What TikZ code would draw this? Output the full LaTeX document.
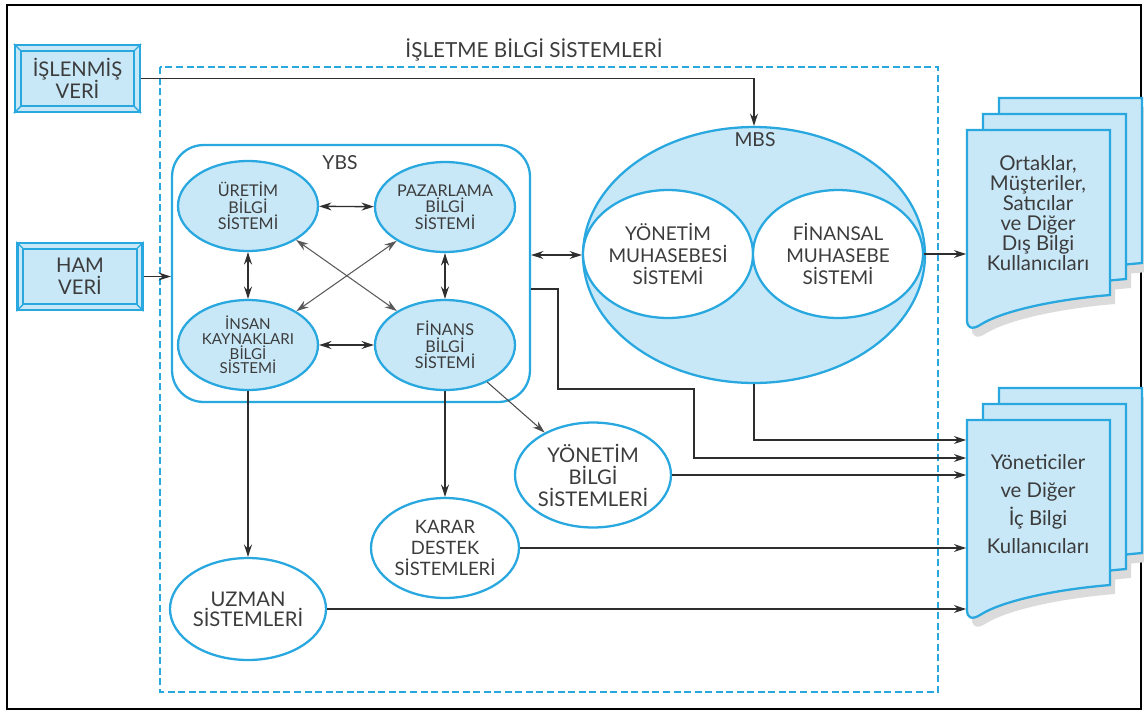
\documentclass[tikz,border=0pt]{standalone}
\usepackage{fontspec}
\setmainfont{Lato}
\usepackage{tikz}
\usetikzlibrary{shapes,arrows,arrows.meta,positioning}
\definecolor{bsblue}{HTML}{29A8E0}
\definecolor{bsfill}{HTML}{C8E8F8}
\definecolor{bstext}{HTML}{3C3C3C}
\definecolor{bsarrow}{HTML}{2E2E2E}

\begin{document}
\begin{tikzpicture}[x=0.02cm, y=-0.02cm, text=bstext]
        \tikzstyle{sub} = [ellipse, draw=bsblue, line width=1.3pt, fill=bsfill, inner sep=0pt, minimum width=2.8cm, minimum height=1.8cm, align=center, font=\fontsize{9.2}{9.4}\selectfont]
        \tikzstyle{sys} = [ellipse, draw=bsblue, line width=1.3pt, fill=white, inner sep=0pt, align=center, font=\fontsize{11.5}{12.5}\selectfont]
        \tikzstyle{databox} = [rectangle, draw=bsblue, line width=1.3pt, fill=bsfill, minimum width=2.5cm, minimum height=1.34cm, align=center, font=\fontsize{11.5}{12.5}\selectfont]
        \tikzstyle{page} = [draw=bsblue, line width=1.3pt, fill=bsfill]
        \tikzstyle{line} = [draw, -{Stealth[length=7pt,width=4.5pt]}, bsarrow, line width=0.8pt]
        \tikzstyle{twoway} = [draw, {Stealth[length=7pt,width=4.5pt]}-{Stealth[length=7pt,width=4.5pt]}, bsarrow, line width=0.8pt]
        \tikzstyle{cross} = [draw, {Stealth[length=7pt,width=4.5pt]}-{Stealth[length=7pt,width=4.5pt]}, black!65, line width=0.6pt]

        \useasboundingbox (0,0) rectangle (1144,711);
        \draw[line width=1.2pt] (7,5) rectangle (1141,709);
        \draw[bsblue, line width=1.1pt, dash pattern=on 4pt off 2pt] (160,67) rectangle (938,692);
        \node[font=\fontsize{11.8}{12}\selectfont] (isletme) at (534,50) {İŞLETME BİLGİ SİSTEMLERİ};

        \node [databox] (islenmis) at (77.5,78.5) {İŞLENMİŞ\\VERİ};
        \node [databox] (ham) at (80,276.5) {HAM\\VERİ};
        \foreach \n in {islenmis,ham} {
            \draw[bsblue, line width=1pt] ([shift={(7,7)}]\n.north west) rectangle ([shift={(-7,-7)}]\n.south east);
            \draw[bsblue, line width=0.8pt] (\n.north west) -- ([shift={(7,7)}]\n.north west)
                (\n.north east) -- ([shift={(-7,7)}]\n.north east)
                (\n.south west) -- ([shift={(7,-7)}]\n.south west)
                (\n.south east) -- ([shift={(-7,-7)}]\n.south east);
        }

        % YBS
        \node [rectangle, rounded corners=18pt, draw=bsblue, line width=1.3pt, minimum width=7.16cm, minimum height=5.14cm] (ybs) at (351,273.5) {};
        \node [font=\fontsize{11}{12}\selectfont] (ybslabel) at (340,163) {YBS};
        \node [sub] (ur) at (248,206) {ÜRETİM\\BİLGİ\\SİSTEMİ};
        \node [sub] (pz) at (445,207) {PAZARLAMA\\BİLGİ\\SİSTEMİ};
        \node [sub, font=\fontsize{8.6}{8.4}\selectfont] (ik) at (248,345) {İNSAN\\KAYNAKLARI\\BİLGİ\\SİSTEMİ};
        \node [sub] (fn) at (445,345) {FİNANS\\BİLGİ\\SİSTEMİ};

        % MBS
        \node [ellipse, draw=bsblue, line width=1.3pt, fill=bsfill, inner sep=0pt, minimum width=6.84cm, minimum height=5.12cm] (mbs) at (754,255) {};
        \node [font=\fontsize{11}{12}\selectfont] (mbslabel) at (755,140) {MBS};
        \node [sys, font=\fontsize{10.8}{12.5}\selectfont, minimum width=3.4cm, minimum height=2.56cm] (yms) at (668,254) {YÖNETİM\\MUHASEBESİ\\SİSTEMİ};
        \node [sys, font=\fontsize{10.8}{12.5}\selectfont, minimum width=3.4cm, minimum height=2.56cm] (fms) at (838,254) {FİNANSAL\\MUHASEBE\\SİSTEMİ};

        \node [sys, minimum width=3.12cm, minimum height=2.1cm] (ybi) at (593,475) {YÖNETİM\\BİLGİ\\SİSTEMLERİ};
        \node [sys, font=\fontsize{10.5}{12}\selectfont, minimum width=2.96cm, minimum height=2cm] (kds) at (445,548) {KARAR\\DESTEK\\SİSTEMLERİ};
        \node [sys, font=\fontsize{11.5}{11.5}\selectfont, minimum width=2.96cm, minimum height=2.04cm] (uzs) at (248,609) {UZMAN\\SİSTEMLERİ};

        % users
        \foreach \dy in {0,290} {
            \foreach \s in {32,16,0}
                \fill[black!14, shift={(\s+5,\dy-\s+9)}] (967,130) -- (1110,130) -- (1110,295) .. controls (1050,300) and (1000,312) .. (980,325) .. controls (972,330) and (967,328) .. (967,320) -- cycle;
            \foreach \s in {32,16,0}
                \draw[page, shift={(\s,\dy-\s)}] (967,130) -- (1110,130) -- (1110,295) .. controls (1050,300) and (1000,312) .. (980,325) .. controls (972,330) and (967,328) .. (967,320) -- cycle;
        }
        \node [align=center, inner sep=0pt, minimum width=2.86cm, font=\fontsize{11.6}{11.4}\selectfont] (ext) at (1038,213) {Ortaklar,\\Müşteriler,\\Satıcılar\\ve Diğer\\Dış Bilgi\\Kullanıcıları};
        \node [align=center, inner sep=0pt, minimum width=2.86cm, font=\fontsize{11.6}{16}\selectfont] (int) at (1038,504) {Yöneticiler\\ve Diğer\\İç Bilgi\\Kullanıcıları};

        \path [line] (islenmis.east) -| (mbs.north);
        \path [line] (ham.east) -- (ybs.west |- ham.east);
        \path [twoway] (ybs.east |- mbs.west) -- (mbs.west);
        \path [line] (fms.east) -- (ext.west |- fms.east);
        \path [twoway] (ur) -- (pz);
        \path [twoway] (ur) -- (ik);
        \path [twoway] (pz) -- (fn);
        \path [twoway] (ik) -- (fn);
        \path [cross] (ur) -- (fn);
        \path [cross] (pz) -- (ik);
        \path [line] (ik) -- (uzs);
        \path [line] (fn) -- (kds);
        \path [line, black!70, line width=0.6pt] (fn) -- (ybi);
        \path [line] (mbs.south) |- ([yshift=1.28cm]int.west);
        \path [line] ([yshift=-0.31cm]ybs.east) -- ++(27,0) -- ++(0,100) -- ++(136,0) |- ([yshift=0.92cm]int.west);
        \path [line] (ybi.east) -- (int.west |- ybi.east);
        \path [line] (kds.east) -- (int.west |- kds.east);
        \path [line] (uzs.east) -- (int.west |- uzs.east);
    \end{tikzpicture}
\end{document}
